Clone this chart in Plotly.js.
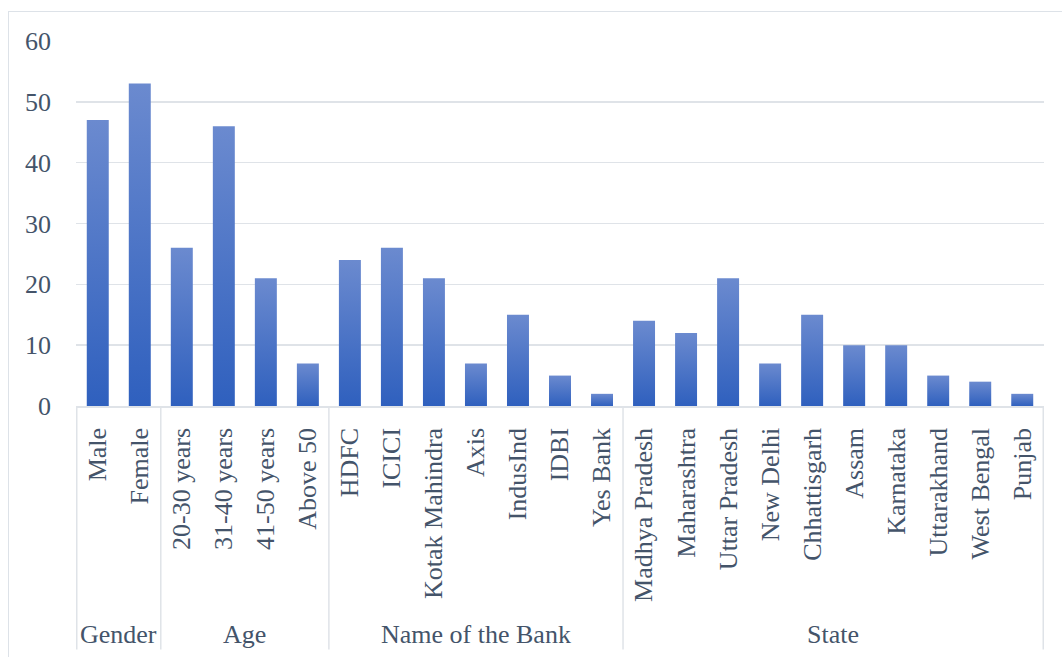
<!DOCTYPE html>
<html>
<head>
<meta charset="utf-8">
<script src="https://cdn.plot.ly/plotly-3.0.1.min.js"></script>
<style>
html,body{margin:0;padding:0;background:#fff;}
#wrap{position:relative;width:1062px;height:657px;overflow:hidden;}
#chart{width:1062px;height:657px;}
#frame{position:absolute;left:8px;top:11px;width:1100px;height:700px;border-top:1.5px solid #dde2e8;border-left:1.5px solid #dde2e8;pointer-events:none;}
</style>
</head>
<body>
<div id="wrap"><div id="chart"></div><div id="frame"></div></div>
<script>
const categories = ["Male","Female","20-30 years","31-40 years","41-50 years","Above 50",
  "HDFC","ICICI","Kotak Mahindra","Axis","IndusInd","IDBI","Yes Bank",
  "Madhya Pradesh","Maharashtra","Uttar Pradesh","New Delhi","Chhattisgarh","Assam","Karnataka","Uttarakhand","West Bengal","Punjab"];
const values = [47,53,26,46,21,7,24,26,21,7,15,5,2,14,12,21,7,15,10,10,5,4,2];
const groupNames = ["Gender","Age","Name of the Bank","State"];
const groupSizes = [2,4,7,10];
const yTicks = [0,10,20,30,40,50,60];

const txt = '#44546a';
const gridc = '#dfe3e8';
const font = {family:'Liberation Serif, Times New Roman, serif', size:26, color:txt};

const shapes = [];
const annotations = [];
let start = 0;
const bounds = [-0.5];
groupNames.forEach((g,i)=>{
  const end = start + groupSizes[i];
  bounds.push(end - 0.5);
  annotations.push({x:(start+end-1)/2, xref:'x', y:-0.627, yref:'paper', text:g, showarrow:false,
    font:font, xanchor:'center', yanchor:'middle'});
  start = end;
});
bounds.forEach(b=>{
  shapes.push({type:'line', xref:'x', yref:'paper', x0:b, x1:b, y0:0, y1:-0.667,
    line:{color:gridc, width:1.5}});
});

Plotly.newPlot('chart',[{
  type:'bar', x:categories, y:values,
  marker:{color:'#4472c4'}, hoverinfo:'x+y'
}],{
  width:1062, height:657,
  margin:{l:76, r:18, t:41, b:251},
  paper_bgcolor:'rgba(0,0,0,0)', plot_bgcolor:'rgba(0,0,0,0)',
  bargap:0.477,
  showlegend:false,
  font:font,
  xaxis:{type:'category', tickangle:-90, ticks:'', showgrid:false, showline:true,
    linecolor:gridc, linewidth:1.5, tickfont:font, ticklabelstandoff:10, fixedrange:true},
  yaxis:{range:[0,60], tickvals:yTicks, showgrid:true, gridcolor:gridc, gridwidth:1.5,
    zeroline:false, showline:false, ticks:'', tickfont:font, ticklabelstandoff:24, fixedrange:true},
  shapes:shapes, annotations:annotations
},{displayModeBar:false, staticPlot:true}).then(gd=>{
  const svg = gd.querySelector('.main-svg');
  const ns = 'http://www.w3.org/2000/svg';
  let defs = svg.querySelector('defs');
  if(!defs){defs = document.createElementNS(ns,'defs'); svg.insertBefore(defs, svg.firstChild);}
  const lg = document.createElementNS(ns,'linearGradient');
  lg.setAttribute('id','barGrad'); lg.setAttribute('x1','0'); lg.setAttribute('y1','0');
  lg.setAttribute('x2','0'); lg.setAttribute('y2','1');
  [['0','#6b8acf'],['1','#2f60be']].forEach(([o,c])=>{
    const s = document.createElementNS(ns,'stop'); s.setAttribute('offset',o); s.setAttribute('stop-color',c); lg.appendChild(s);
  });
  defs.appendChild(lg);
  gd.querySelectorAll('.barlayer path').forEach(p=>{ p.style.fill = 'url(#barGrad)'; });
});
</script>
</body>
</html>
